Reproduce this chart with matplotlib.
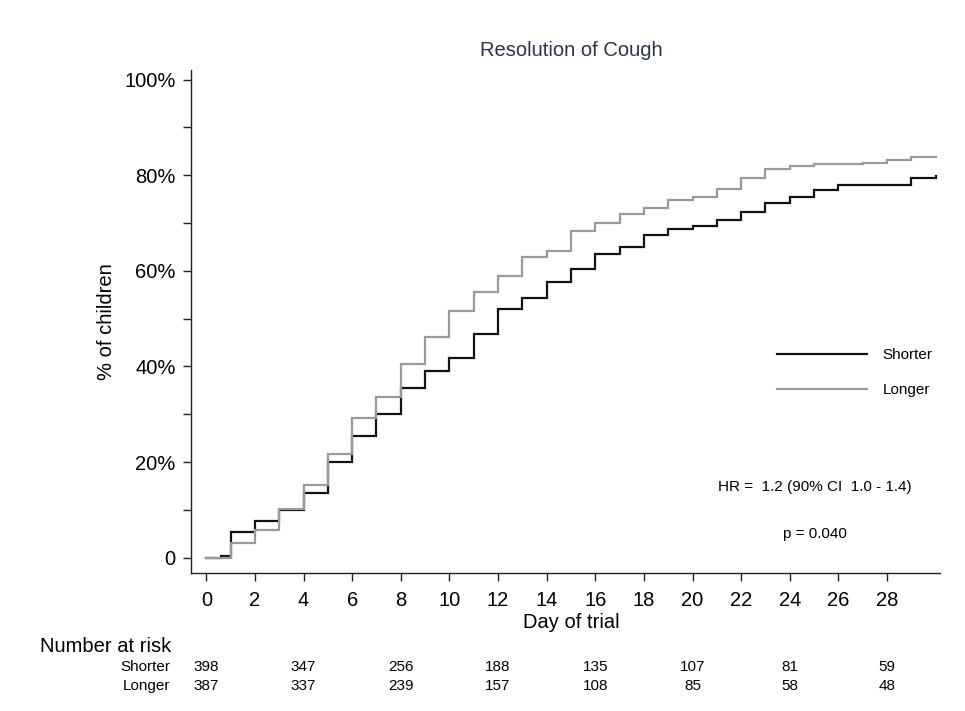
import matplotlib
matplotlib.use("Agg")
import matplotlib.pyplot as plt
import matplotlib.transforms as mtransforms
from matplotlib.ticker import FixedLocator, FuncFormatter

plt.rcParams['font.family'] = ['Liberation Sans', 'DejaVu Sans']

# ---- data ----
title = "Resolution of Cough"
shorter_days = [0, 0.6, 1, 2, 3, 4, 5, 6, 7, 8, 9, 10, 11, 12, 13, 14, 15, 16,
                17, 18, 19, 20, 21, 22, 23, 24, 25, 26, 27, 28, 29, 30]
shorter_pct = [0, 0.4, 5.4, 7.6, 10.0, 13.5, 20.0, 25.4, 30.1, 35.5, 39.0, 41.7,
               46.7, 52.0, 54.4, 57.6, 60.4, 63.6, 65.0, 67.4, 68.8, 69.3, 70.7,
               72.2, 74.2, 75.4, 77.0, 78.0, 78.0, 78.0, 79.4, 79.9]
longer_days = [0, 1, 2, 3, 4, 5, 6, 7, 8, 9, 10, 11, 12, 13, 14, 15, 16,
               17, 18, 19, 20, 21, 22, 23, 24, 25, 26, 27, 28, 29, 30]
longer_pct = [0, 3.0, 5.8, 10.1, 15.3, 21.6, 29.2, 33.7, 40.5, 46.2, 51.6, 55.6,
              58.9, 62.9, 64.1, 68.4, 70.1, 71.8, 73.1, 74.9, 75.4, 77.1, 79.5,
              81.3, 82.0, 82.4, 82.4, 82.6, 83.1, 83.9, 83.9]
group_labels = ["Shorter", "Longer"]
risk_days = [0, 4, 8, 12, 16, 20, 24, 28]
risk_shorter = [398, 347, 256, 188, 135, 107, 81, 59]
risk_longer = [387, 337, 239, 157, 108, 85, 58, 48]
x_ticks = list(range(0, 29, 2))
y_major = [0, 20, 40, 60, 80, 100]
y_minor = [10, 30, 50, 70, 90]
hr_text = "HR =  1.2 (90% CI  1.0 - 1.4)"
p_text = "p = 0.040"

W, H = 965, 711
BIG = 14.5
SMALL = 11
fig = plt.figure(figsize=(W / 100, H / 100), dpi=100)
ax = fig.add_axes([191 / W, 1 - 573 / H, (940 - 191) / W, (573 - 70) / H])

ax.step(shorter_days, shorter_pct, where='post', color='#111111', lw=1.6,
        label=group_labels[0], solid_joinstyle='miter')
ax.step(longer_days, longer_pct, where='post', color='#9a9a9a', lw=1.6,
        label=group_labels[1], solid_joinstyle='miter')

ax.set_xlim(-0.63, 30.18)
ax.set_ylim(-3.2, 102)

for s in ['top', 'right']:
    ax.spines[s].set_visible(False)
for s in ['left', 'bottom']:
    ax.spines[s].set_color('#222222')
    ax.spines[s].set_linewidth(1.0)

ax.xaxis.set_major_locator(FixedLocator(x_ticks))
ax.yaxis.set_major_locator(FixedLocator(y_major))
ax.yaxis.set_minor_locator(FixedLocator(y_minor))
ax.yaxis.set_major_formatter(FuncFormatter(lambda v, p: "0" if v == 0 else f"{int(v)}%"))
ax.tick_params(axis='x', length=6, width=1, color='#222222', pad=7, labelsize=BIG)
ax.tick_params(axis='y', which='both', length=6, width=1, color='#222222', pad=5, labelsize=BIG)
ax.tick_params(axis='y', which='minor', labelleft=False)

cx = (571.5 - 191) / (940 - 191)
ax.set_xlabel("Day of trial", fontsize=BIG, labelpad=2, x=cx)
ax.set_ylabel("% of children", fontsize=BIG, labelpad=6)
ax.set_title(title, fontsize=BIG, color='#2a3350', pad=10, x=cx)

leg = ax.legend(loc='upper left', bbox_to_anchor=(777 / W, 1 - 348 / H),
                bbox_transform=fig.transFigure, frameon=False, fontsize=SMALL,
                handlelength=5.9, handletextpad=1.0, labelspacing=1.38,
                borderpad=0, borderaxespad=0)

fig.text(815 / W, 1 - 487 / H, hr_text, fontsize=SMALL, ha='center', va='center')
fig.text(815 / W, 1 - 534 / H, p_text, fontsize=SMALL, ha='center', va='center')

# Number at risk table
trans = mtransforms.blended_transform_factory(ax.transData, fig.transFigure)
fig.text(40 / W, 1 - 647 / H, "Number at risk", fontsize=BIG, ha='left', va='center')
fig.text(170 / W, 1 - 667 / H, group_labels[0], fontsize=SMALL, ha='right', va='center')
fig.text(170 / W, 1 - 686 / H, group_labels[1], fontsize=SMALL, ha='right', va='center')
for d, a, b in zip(risk_days, risk_shorter, risk_longer):
    ax.text(d, 1 - 667 / H, str(a), transform=trans, fontsize=SMALL, ha='center', va='center')
    ax.text(d, 1 - 686 / H, str(b), transform=trans, fontsize=SMALL, ha='center', va='center')

fig.savefig("out.png", dpi=100, facecolor='white')
